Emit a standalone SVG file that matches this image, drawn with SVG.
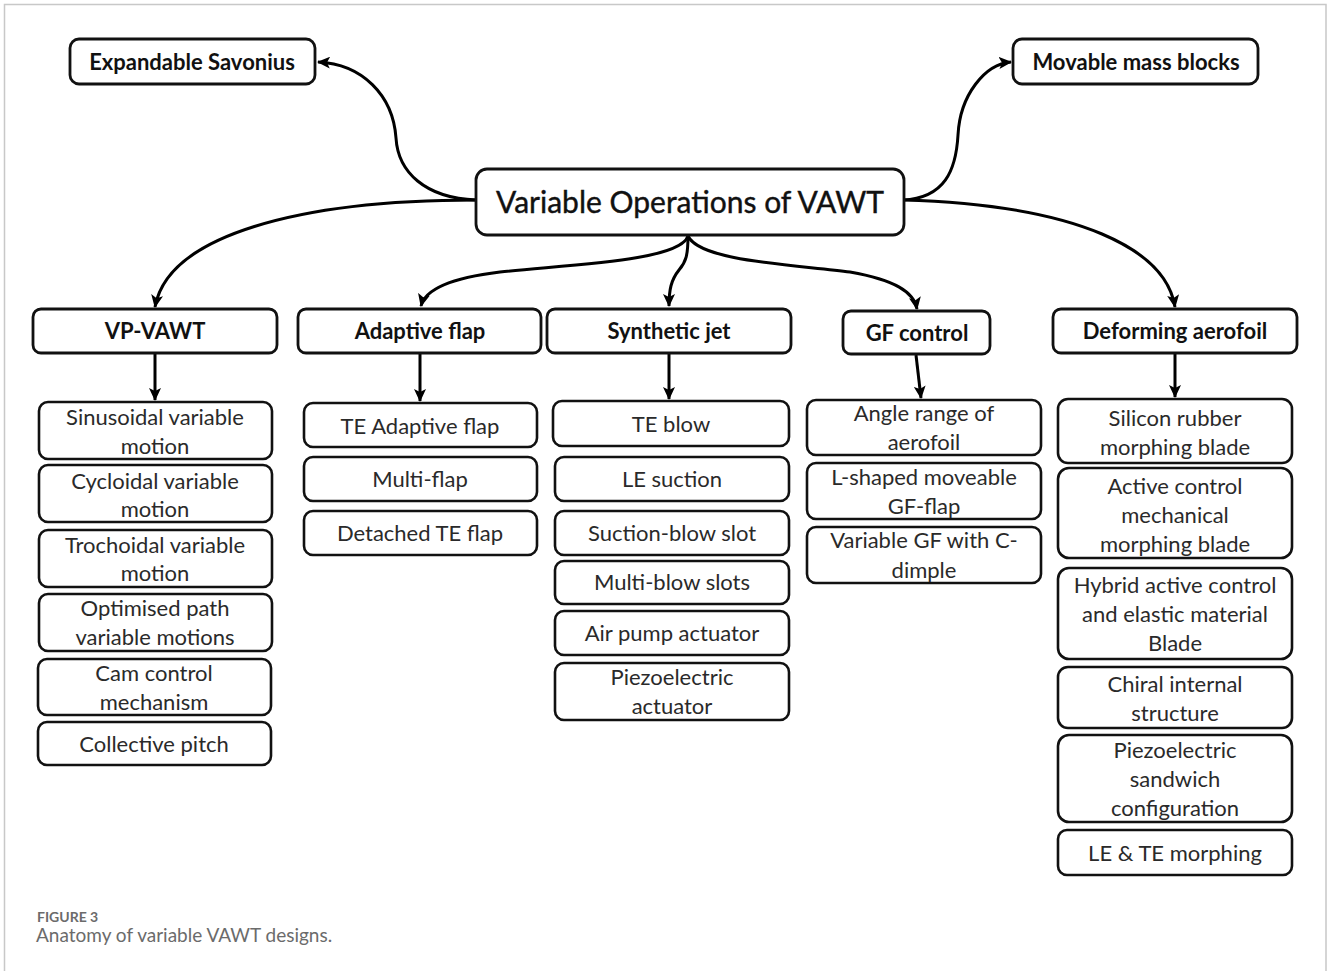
<svg xmlns="http://www.w3.org/2000/svg" width="1328" height="971" viewBox="0 0 1328 971">
<style>
.bg{fill:#fff}
.frame{fill:none;stroke:#c8c8c8;stroke-width:1.5}
.box{fill:#fff;stroke:#111;stroke-width:2.6}
.main{fill:#fff;stroke:#111;stroke-width:2.8}
.t{font-family:Lato,"Liberation Sans",sans-serif;font-size:22px;fill:#2a2a2a;text-anchor:middle;dominant-baseline:central}
.b{font-family:Lato,"Liberation Sans",sans-serif;font-size:22px;font-weight:bold;fill:#111;text-anchor:middle;dominant-baseline:central}
.c{font-family:Lato,"Liberation Sans",sans-serif;font-size:30px;fill:#111;text-anchor:middle;dominant-baseline:central;stroke:#111;stroke-width:0.4}
.conn{fill:none;stroke:#000;stroke-width:3}
.cap1{font-family:Lato,"Open Sans",sans-serif;font-size:14px;font-weight:bold;fill:#6b6b6b}
.cap2{font-family:Lato,"Open Sans",sans-serif;font-size:19px;fill:#6b6b6b}
</style>
<defs>
<marker id="ah" markerUnits="userSpaceOnUse" markerWidth="14" markerHeight="12" refX="12" refY="6" orient="auto">
<path d="M0,0 L13,6 L0,12 L3,6 z" fill="#000"/>
</marker>
</defs>
<rect class="bg" x="0" y="0" width="1328" height="971"/>
<path class="frame" d="M4.5,971 V4.5 H1326 V971"/>

<g id="connectors">
<path class="conn" marker-end="url(#ah)" d="M476,200 C425,198 398,172 396,138 C393,95 362,64 318,62"/>
<path class="conn" marker-end="url(#ah)" d="M903,200 C945,198 956,170 958,135 C960,95 985,64 1011,62"/>
<path class="conn" marker-end="url(#ah)" d="M476,200 C300,200 168,235 155,307"/>
<path class="conn" marker-end="url(#ah)" d="M903,200 C1080,205 1166,250 1175,307"/>
<path class="conn" marker-end="url(#ah)" d="M688,236 C680,262 560,265 500,272 C450,278 425,290 421,306"/>
<path class="conn" marker-end="url(#ah)" d="M688,236 C688,255 686,262 679,270 C671,280 669,290 669,306"/>
<path class="conn" marker-end="url(#ah)" d="M688,236 C700,262 800,265 850,272 C895,280 914,292 917,309"/>
<path class="conn" marker-end="url(#ah)" d="M155,353 V400"/>
<path class="conn" marker-end="url(#ah)" d="M420,353 V401"/>
<path class="conn" marker-end="url(#ah)" d="M669,353 V399"/>
<path class="conn" marker-end="url(#ah)" d="M916,355 L921,398"/>
<path class="conn" marker-end="url(#ah)" d="M1175,353 V397"/>
</g>

<g id="n-expandable"><rect class="main" x="70" y="39" width="245" height="45" rx="9"/><text class="b" x="192" y="61">Expandable Savonius</text></g>
<g id="n-movable"><rect class="main" x="1013" y="39" width="245" height="45" rx="9"/><text class="b" x="1136" y="61">Movable mass blocks</text></g>
<g id="n-center"><rect class="main" x="476" y="169" width="428" height="66" rx="11"/><text class="c" x="690" y="201">Variable Operations of VAWT</text></g>

<g id="n-vp"><rect class="main" x="33" y="309" width="244" height="44" rx="8"/><text class="b" x="155" y="330">VP-VAWT</text></g>
<g id="n-adaptive"><rect class="main" x="298" y="309" width="243" height="44" rx="8"/><text class="b" x="420" y="330">Adaptive flap</text></g>
<g id="n-synthetic"><rect class="main" x="547" y="309" width="244" height="44" rx="8"/><text class="b" x="669" y="330">Synthetic jet</text></g>
<g id="n-gf"><rect class="main" x="843" y="311" width="147" height="43" rx="8"/><text class="b" x="917" y="332">GF control</text></g>
<g id="n-deforming"><rect class="main" x="1053" y="309" width="244" height="44" rx="8"/><text class="b" x="1175" y="330">Deforming aerofoil</text></g>

<g id="n-sinusoidal"><rect class="box" x="39" y="402" width="233" height="57" rx="9"/><text class="t" x="155" y="416">Sinusoidal variable</text><text class="t" x="155" y="445">motion</text></g>
<g id="n-cycloidal"><rect class="box" x="39" y="465" width="233" height="57" rx="9"/><text class="t" x="155" y="480">Cycloidal variable</text><text class="t" x="155" y="508">motion</text></g>
<g id="n-trochoidal"><rect class="box" x="39" y="530" width="233" height="57" rx="9"/><text class="t" x="155" y="544">Trochoidal variable</text><text class="t" x="155" y="572">motion</text></g>
<g id="n-optimised"><rect class="box" x="39" y="594" width="233" height="57" rx="9"/><text class="t" x="155" y="607">Optimised path</text><text class="t" x="155" y="636">variable motions</text></g>
<g id="n-cam"><rect class="box" x="38" y="659" width="233" height="56" rx="9"/><text class="t" x="154" y="672">Cam control</text><text class="t" x="154" y="701">mechanism</text></g>
<g id="n-collective"><rect class="box" x="38" y="722" width="233" height="43" rx="9"/><text class="t" x="154" y="743">Collective pitch</text></g>

<g id="n-te-adaptive"><rect class="box" x="304" y="403" width="233" height="44" rx="9"/><text class="t" x="420" y="425">TE Adaptive flap</text></g>
<g id="n-multiflap"><rect class="box" x="304" y="457" width="233" height="44" rx="9"/><text class="t" x="420" y="478">Multi-flap</text></g>
<g id="n-detached"><rect class="box" x="304" y="511" width="233" height="44" rx="9"/><text class="t" x="420" y="532">Detached TE flap</text></g>

<g id="n-teblow"><rect class="box" x="553" y="401" width="236" height="45" rx="9"/><text class="t" x="671" y="423">TE blow</text></g>
<g id="n-lesuction"><rect class="box" x="555" y="457" width="234" height="44" rx="9"/><text class="t" x="672" y="478">LE suction</text></g>
<g id="n-suctionblow"><rect class="box" x="555" y="511" width="234" height="44" rx="9"/><text class="t" x="672" y="532">Suction-blow slot</text></g>
<g id="n-multiblow"><rect class="box" x="555" y="561" width="234" height="43" rx="9"/><text class="t" x="672" y="581">Multi-blow slots</text></g>
<g id="n-airpump"><rect class="box" x="555" y="611" width="234" height="44" rx="9"/><text class="t" x="672" y="632">Air pump actuator</text></g>
<g id="n-piezoact"><rect class="box" x="555" y="663" width="234" height="57" rx="9"/><text class="t" x="672" y="676">Piezoelectric</text><text class="t" x="672" y="705">actuator</text></g>

<g id="n-angle"><rect class="box" x="807" y="400" width="234" height="55" rx="9"/><text class="t" x="924" y="412">Angle range of</text><text class="t" x="924" y="441">aerofoil</text></g>
<g id="n-lshaped"><rect class="box" x="807" y="463" width="234" height="56" rx="9"/><text class="t" x="924" y="476">L-shaped moveable</text><text class="t" x="924" y="505">GF-flap</text></g>
<g id="n-variablegf"><rect class="box" x="807" y="527" width="234" height="56" rx="9"/><text class="t" x="924" y="539">Variable GF with C-</text><text class="t" x="924" y="569">dimple</text></g>

<g id="n-silicon"><rect class="box" x="1058" y="399" width="234" height="64" rx="10"/><text class="t" x="1175" y="417">Silicon rubber</text><text class="t" x="1175" y="446">morphing blade</text></g>
<g id="n-active"><rect class="box" x="1058" y="468" width="234" height="90" rx="11"/><text class="t" x="1175" y="485">Active control</text><text class="t" x="1175" y="514">mechanical</text><text class="t" x="1175" y="543">morphing blade</text></g>
<g id="n-hybrid"><rect class="box" x="1058" y="568" width="234" height="91" rx="11"/><text class="t" x="1175" y="584">Hybrid active control</text><text class="t" x="1175" y="613">and elastic material</text><text class="t" x="1175" y="642">Blade</text></g>
<g id="n-chiral"><rect class="box" x="1058" y="667" width="234" height="61" rx="10"/><text class="t" x="1175" y="683">Chiral internal</text><text class="t" x="1175" y="712">structure</text></g>
<g id="n-piezosandwich"><rect class="box" x="1058" y="735" width="234" height="87" rx="11"/><text class="t" x="1175" y="749">Piezoelectric</text><text class="t" x="1175" y="778">sandwich</text><text class="t" x="1175" y="807">configuration</text></g>
<g id="n-lete"><rect class="box" x="1058" y="830" width="234" height="45" rx="9"/><text class="t" x="1175" y="852">LE &amp; TE morphing</text></g>

<text class="cap1" x="37" y="922">FIGURE 3</text>
<text class="cap2" x="36" y="942">Anatomy of variable VAWT designs.</text>
</svg>
